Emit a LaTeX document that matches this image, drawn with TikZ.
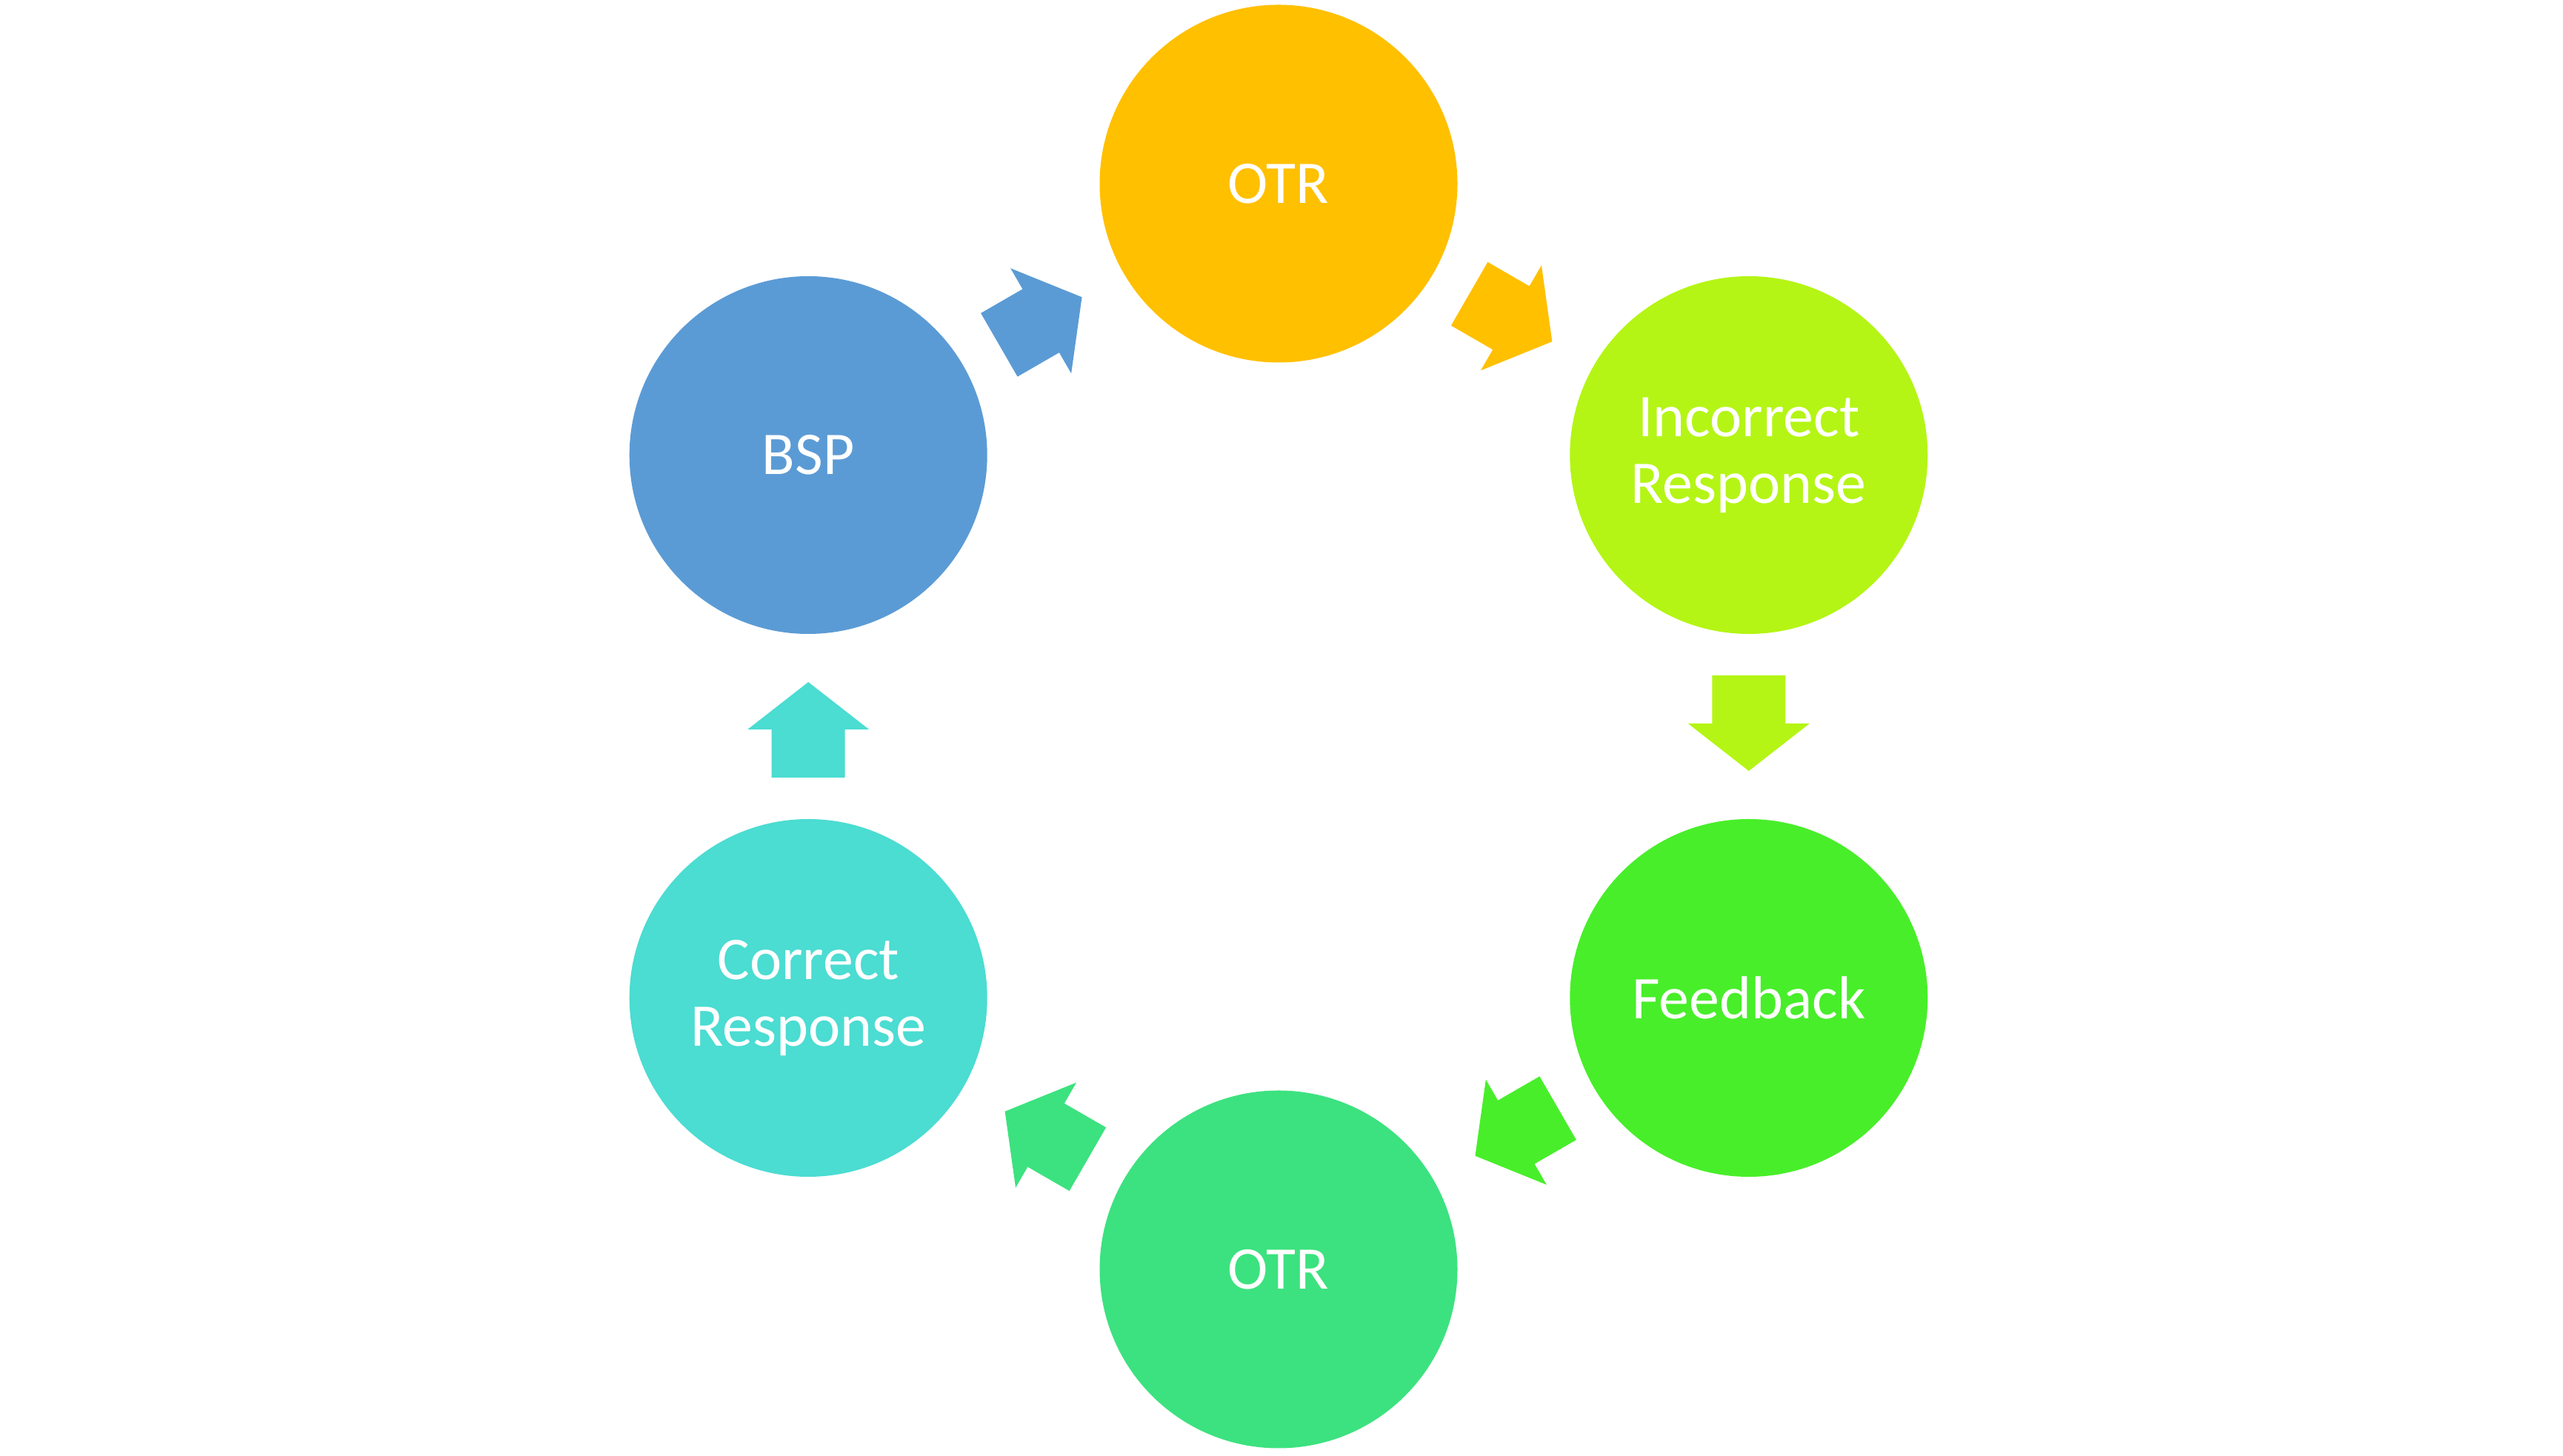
\documentclass[tikz,border=0pt]{standalone}
\usepackage{fontspec}
\setmainfont{Carlito}
\usetikzlibrary{calc}
\definecolor{cgold}{HTML}{FFC000}
\definecolor{clime}{HTML}{B4F515}
\definecolor{cgreen}{HTML}{48EE2A}
\definecolor{cmint}{HTML}{3CE27F}
\definecolor{cteal}{HTML}{4BDCD2}
\definecolor{cblue}{HTML}{5B9BD5}
\tikzset{
  stage/.style={circle, inner sep=0pt, minimum size=4.83cm, text=white, align=center,
    font=\fontsize{23.3pt}{25.6pt}\selectfont},
  blockarrow/.pic={\fill[#1] (-0.69,-0.495) -- (-0.04,-0.495) -- (-0.04,-0.82) -- (0.60,0)
     -- (-0.04,0.82) -- (-0.04,0.495) -- (-0.69,0.495) -- cycle;}
}
\begin{document}
\begin{tikzpicture}
\useasboundingbox (0,0) rectangle (34.6,19.66);
\coordinate (c) at (17.26,9.85);
\node[stage, fill=cgold]  (otr1) at ($(c)+(90:7.33)$)  {OTR};
\node[stage, fill=clime]  (inc)  at ($(c)+(30:7.33)$)  {Incorrect\\Response};
\node[stage, fill=cgreen] (fb)   at ($(c)+(-30:7.33)$) {Feedback};
\node[stage, fill=cmint]  (otr2) at ($(c)+(-90:7.33)$) {OTR};
\node[stage, fill=cteal]  (cor)  at ($(c)+(-150:7.33)$) {Correct\\Response};
\node[stage, fill=cblue]  (bsp)  at ($(c)+(150:7.33)$) {BSP};
\pic[rotate=30]   at ($(bsp)!0.5!(otr1)$) {blockarrow=cblue};
\pic[rotate=-30]  at ($(otr1)!0.5!(inc)$) {blockarrow=cgold};
\pic[rotate=-90]  at ($(inc)!0.5!(fb)$)   {blockarrow=clime};
\pic[rotate=-150] at ($(fb)!0.5!(otr2)$)  {blockarrow=cgreen};
\pic[rotate=150]  at ($(otr2)!0.5!(cor)$) {blockarrow=cmint};
\pic[rotate=90]   at ($(cor)!0.5!(bsp)$)  {blockarrow=cteal};
\end{tikzpicture}
\end{document}
